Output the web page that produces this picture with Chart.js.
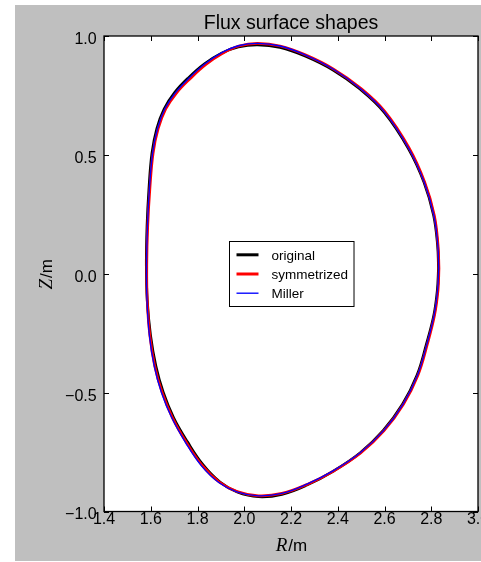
<!DOCTYPE html>
<html>
<head>
<meta charset="utf-8">
<script src="https://cdn.jsdelivr.net/npm/chart.js@4.4.1/dist/chart.umd.min.js"></script>
<style>
  html, body { margin: 0; padding: 0; background: #fff; overflow: hidden; width: 481px; height: 562px; }
  #wrap { position: absolute; left: 15px; top: 5px; }
  canvas { display: block; }
</style>
</head>
<body>
<div id="wrap"><canvas id="c" width="500" height="556"></canvas></div>
<script>
// Flux surface contour (R, Z in metres), traced counter-clockwise from the outboard midplane.
const originalR = [2.831, 2.827, 2.810, 2.769, 2.701, 2.598, 2.495, 2.380, 2.260, 2.153, 2.057,
  1.975, 1.903, 1.830, 1.762, 1.702, 1.657, 1.626, 1.605, 1.592, 1.584, 1.581,
  1.585, 1.599, 1.622, 1.653, 1.698, 1.757, 1.824, 1.896, 1.970, 2.061,
  2.161, 2.268, 2.380, 2.495, 2.594, 2.677, 2.739, 2.779, 2.811, 2.826, 2.831];
const originalZ = [0.023, 0.120, 0.246, 0.385, 0.529, 0.680, 0.777, 0.857, 0.916, 0.952, 0.963,
  0.954, 0.928, 0.883, 0.825, 0.762, 0.693, 0.611, 0.507, 0.354, 0.200, 0.036,
  -0.112, -0.258, -0.388, -0.497, -0.606, -0.707, -0.804, -0.876, -0.918, -0.938,
  -0.928, -0.889, -0.831, -0.754, -0.660, -0.549, -0.427, -0.297, -0.175, -0.069, 0.023];

const symmetrizedR = [2.833, 2.829, 2.813, 2.772, 2.704, 2.601, 2.497, 2.382, 2.261, 2.153, 2.057,
  1.977, 1.907, 1.836, 1.769, 1.709, 1.664, 1.632, 1.610, 1.596, 1.587, 1.583,
  1.585, 1.596, 1.617, 1.648, 1.693, 1.752, 1.820, 1.893, 1.969, 2.061,
  2.161, 2.269, 2.382, 2.498, 2.598, 2.681, 2.743, 2.783, 2.814, 2.829, 2.833];
const symmetrizedZ = [0.023, 0.120, 0.246, 0.385, 0.531, 0.683, 0.781, 0.861, 0.921, 0.958, 0.969,
  0.958, 0.927, 0.880, 0.821, 0.759, 0.693, 0.611, 0.507, 0.354, 0.200, 0.036,
  -0.112, -0.258, -0.388, -0.497, -0.606, -0.709, -0.806, -0.876, -0.916, -0.934,
  -0.924, -0.886, -0.830, -0.754, -0.660, -0.549, -0.427, -0.297, -0.175, -0.069, 0.023];

const millerR = [2.832, 2.828, 2.811, 2.770, 2.702, 2.599, 2.495, 2.380, 2.260, 2.153, 2.057,
  1.975, 1.904, 1.832, 1.765, 1.705, 1.660, 1.629, 1.608, 1.594, 1.586, 1.582,
  1.584, 1.594, 1.615, 1.645, 1.690, 1.749, 1.817, 1.891, 1.968, 2.061,
  2.161, 2.268, 2.380, 2.496, 2.596, 2.679, 2.741, 2.781, 2.812, 2.827, 2.832];
const millerZ = [0.023, 0.120, 0.246, 0.385, 0.530, 0.682, 0.780, 0.861, 0.921, 0.958, 0.969,
  0.959, 0.930, 0.883, 0.824, 0.761, 0.693, 0.611, 0.507, 0.354, 0.200, 0.036,
  -0.112, -0.258, -0.388, -0.497, -0.606, -0.710, -0.808, -0.878, -0.917, -0.934,
  -0.924, -0.885, -0.829, -0.753, -0.660, -0.549, -0.427, -0.297, -0.175, -0.069, 0.023];

const seriesLabels = ['original', 'symmetrized', 'Miller'];
const xTickValues = [1.4, 1.6, 1.8, 2.0, 2.2, 2.4, 2.6, 2.8, 3.0];
const yTickValues = [-1.0, -0.5, 0.0, 0.5, 1.0];
const chartTitle = 'Flux surface shapes';

const SANS = '"Liberation Sans", Arial, Helvetica, sans-serif';
const SERIF = '"Liberation Serif", "DejaVu Serif", serif';

const toPoints = (rs, zs) => rs.map((r, i) => ({ x: r, y: zs[i] }));
const fmt = v => v.toFixed(1).replace('-', '\u2212');

// Backgrounds, inward ticks, frame, centred legend and math-style axis titles.
const decorations = {
  id: 'decorations',
  beforeDraw(chart) {
    const { ctx, chartArea: a, width, height } = chart;
    ctx.save();
    ctx.fillStyle = '#bfbfbf';
    ctx.fillRect(0, 0, width, height);
    ctx.fillStyle = '#ffffff';
    ctx.fillRect(a.left, a.top, a.right - a.left, a.bottom - a.top);
    ctx.restore();
  },
  afterDraw(chart) {
    const { ctx, chartArea: a, scales: { x, y } } = chart;
    ctx.save();

    // inward tick marks on all four sides
    const tl = 5;
    ctx.strokeStyle = '#000';
    ctx.lineWidth = 1;
    ctx.beginPath();
    x.ticks.forEach(t => {
      const px = Math.round(x.getPixelForValue(t.value)) + 0.5;
      ctx.moveTo(px, a.bottom); ctx.lineTo(px, a.bottom - tl);
      ctx.moveTo(px, a.top); ctx.lineTo(px, a.top + tl);
    });
    y.ticks.forEach(t => {
      const py = Math.round(y.getPixelForValue(t.value)) + 0.5;
      ctx.moveTo(a.left, py); ctx.lineTo(a.left + tl, py);
      ctx.moveTo(a.right, py); ctx.lineTo(a.right - tl, py);
    });
    ctx.stroke();

    // axes frame
    ctx.lineWidth = 1.3;
    ctx.strokeRect(a.left, a.top, a.right - a.left, a.bottom - a.top);

    // legend, centred in the plot area
    const ds = chart.data.datasets;
    ctx.font = '13.5px ' + SANS;
    const textW = Math.max(...ds.map(d => ctx.measureText(d.label).width));
    const padL = 7, lineLen = 22, gap = 13, padR = 6, rowH = 19.2, padV = 13.3;
    const w = padL + lineLen + gap + textW + padR;
    const h = padV * 2 + rowH * (ds.length - 1);
    const bx = Math.round((a.left + a.right) / 2 - w / 2) + 0.5;
    const by = Math.round((a.top + a.bottom) / 2 - h / 2) + 0.5;
    ctx.fillStyle = '#fff';
    ctx.fillRect(bx, by, w, h);
    ctx.lineWidth = 1;
    ctx.strokeStyle = '#000';
    ctx.strokeRect(bx, by, w, h);
    ds.forEach((d, i) => {
      const ry = by + padV + i * rowH;
      ctx.beginPath();
      ctx.strokeStyle = d.borderColor;
      ctx.lineWidth = d.legendWidth;
      ctx.moveTo(bx + padL, ry);
      ctx.lineTo(bx + padL + lineLen, ry);
      ctx.stroke();
      ctx.fillStyle = '#000';
      ctx.textAlign = 'left';
      ctx.textBaseline = 'middle';
      ctx.fillText(d.label, bx + padL + lineLen + gap, ry + 1);
    });

    // axis titles: italic variable followed by "/m"
    const drawUnitLabel = (sym, cx, cy, rotate) => {
      ctx.save();
      ctx.translate(cx, cy);
      if (rotate) ctx.rotate(-Math.PI / 2);
      const fSym = 'italic 19px ' + SERIF;
      const fUnit = '17px ' + SANS;
      ctx.font = fSym; const w1 = ctx.measureText(sym).width;
      ctx.font = fUnit; const w2 = ctx.measureText('/m').width;
      const start = -(w1 + w2) / 2;
      ctx.fillStyle = '#000';
      ctx.textBaseline = 'alphabetic';
      ctx.textAlign = 'left';
      ctx.font = fSym; ctx.fillText(sym, start, 0);
      ctx.font = fUnit; ctx.fillText('/m', start + w1 + 1, 0);
      ctx.restore();
    };
    drawUnitLabel('R', (a.left + a.right) / 2, a.bottom + 39.5, false);
    drawUnitLabel('Z', 37, (a.top + a.bottom) / 2 + 1, true);

    ctx.restore();
  }
};

const lineStyle = { showLine: true, pointRadius: 0, pointHoverRadius: 0, tension: 0.4, fill: false,
  borderJoinStyle: 'round', borderCapStyle: 'round' };

new Chart(document.getElementById('c'), {
  type: 'scatter',
  data: {
    datasets: [
      { ...lineStyle, label: seriesLabels[0], data: toPoints(originalR, originalZ),
        borderColor: '#000000', borderWidth: 2.7, legendWidth: 3, order: 3 },
      { ...lineStyle, label: seriesLabels[1], data: toPoints(symmetrizedR, symmetrizedZ),
        borderColor: '#ff0000', borderWidth: 2.7, legendWidth: 3, order: 2 },
      { ...lineStyle, label: seriesLabels[2], data: toPoints(millerR, millerZ),
        borderColor: '#0000ff', borderWidth: 1.35, legendWidth: 1.35, order: 1 }
    ]
  },
  options: {
    responsive: false,
    animation: false,
    devicePixelRatio: 1,
    layout: { padding: { left: 0, right: 37, top: 0, bottom: 0 } },
    plugins: {
      legend: { display: false },
      tooltip: { enabled: false },
      title: {
        display: true,
        text: chartTitle,
        fullSize: false,
        color: '#000',
        font: { family: SANS, size: 19.5, weight: 'normal', lineHeight: 1.2 },
        padding: { top: 7, bottom: 0.6 }
      }
    },
    scales: {
      x: {
        type: 'linear',
        min: 1.4, max: 3.0,
        afterBuildTicks: s => { s.ticks = xTickValues.map(v => ({ value: v })); },
        afterFit: s => { s.height = 49.5; },
        grid: { display: false, drawTicks: false },
        border: { display: false },
        ticks: {
          color: '#000', padding: 0, maxRotation: 0, autoSkip: false,
          font: { family: SANS, size: 16, lineHeight: 1 },
          callback: v => fmt(v)
        }
      },
      y: {
        type: 'linear',
        min: -1.0, max: 1.0,
        afterBuildTicks: s => { s.ticks = yTickValues.map(v => ({ value: v })); },
        afterFit: s => { s.width = 89; },
        grid: { display: false, drawTicks: false },
        border: { display: false },
        ticks: {
          color: '#000', padding: 7.3, labelOffset: 3.5, autoSkip: false,
          font: { family: SANS, size: 16, lineHeight: 1 },
          callback: v => fmt(v)
        }
      }
    }
  },
  plugins: [decorations]
});
</script>
</body>
</html>
